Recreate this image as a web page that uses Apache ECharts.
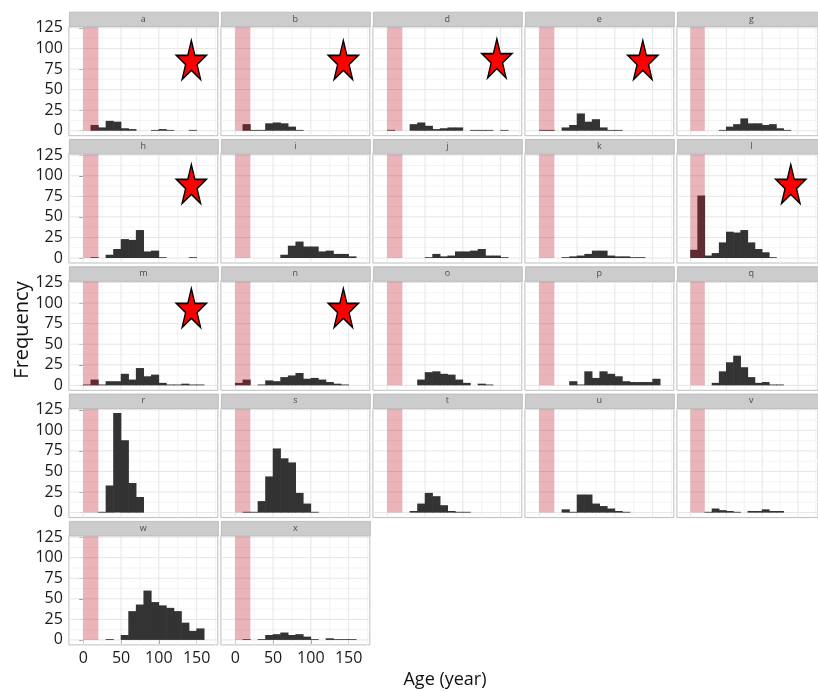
<!DOCTYPE html>
<html>
<head>
<meta charset="utf-8">
<script src="https://cdn.jsdelivr.net/npm/echarts@6/dist/echarts.min.js"></script>
<style>
html,body{margin:0;padding:0;background:#fff;}
#chart{width:818px;height:692px;}
</style>
</head>
<body>
<div id="chart"></div>
<script>
// ---- data ----
const panels = ['a','b','d','e','g','h','i','j','k','l','m','n','o','p','q','r','s','t','u','v','w','x'];
const binStarts = [0,10,20,30,40,50,60,70,80,90,100,110,120,130,140,150];
const binWidth = 10;
const counts = {
  a: [0,7,4,12,11,3,2,0,0,1,2,1,0,0,1,0],
  b: [0,8,1,1,9,10,9,5,1,0,0,0,0,0,0,0],
  d: [1,0,0,8,10,6,2,3,4,4,0,1,1,1,0,1],
  e: [1,1,0,4,7,21,11,14,4,1,1,0,0,0,0,0],
  g: [0,0,0,0,1,5,8,15,9,9,7,8,3,1,0,0],
  h: [0,1,0,4,11,23,22,34,8,9,1,0,0,0,1,0],
  i: [0,0,0,0,0,0,4,15,20,14,14,8,9,5,5,2],
  j: [0,0,0,0,0,1,5,2,3,8,8,9,11,3,3,1],
  k: [0,0,0,1,2,3,5,9,9,3,2,2,1,1,0,0],
  l: [10,76,3,6,19,32,31,34,19,11,7,1,0,0,0,0],
  m: [1,7,1,5,5,14,7,21,11,13,3,1,1,2,1,1],
  n: [3,7,0,1,6,5,10,12,15,8,9,7,4,2,1,0],
  o: [0,0,0,0,7,16,17,14,13,7,3,0,2,1,0,0],
  p: [0,0,0,0,5,1,17,9,17,14,11,5,4,4,4,8],
  q: [0,0,0,3,17,28,36,22,10,3,4,1,1,0,0,0],
  r: [0,0,1,33,121,88,36,19,0,0,0,0,0,0,0,0],
  s: [0,1,1,14,44,78,66,61,24,11,1,0,0,0,0,0],
  t: [0,0,0,2,11,24,20,9,2,1,1,0,0,0,0,0],
  u: [0,0,0,4,1,22,22,11,8,5,2,1,0,0,0,0],
  v: [0,0,1,5,3,2,1,0,2,2,4,2,2,0,0,0],
  w: [0,0,0,1,0,6,35,43,60,46,42,39,35,21,11,14],
  x: [0,1,0,1,6,7,9,6,7,4,1,0,2,1,1,1]
};
const bandRange = [0, 20];
const starPanels = ['a','b','d','e','h','l','m','n'];
const starX = [143,143,145,137,143,140,143,143];
const starY = [86,86,88,86,90,90,94,94];
const xTicks = [0,50,100,150];
const xMinor = [25,75,125,175];
const yTicks = [0,25,50,75,100,125];
const yMinor = [12.5,37.5,62.5,87.5,112.5];
const xLimits = [-19, 178];
const xLabel = 'Age (year)';
const yLabel = 'Frequency';

// ---- layout ----
const nCol = 5;
const colLeft0 = 68.9, colStep = 152, panelW = 148.9;
const rowTop0 = 11.7, rowStep = 127.3, stripH = 14.5, plotH = 109.5;
const FONT = '"Open Sans", "Liberation Sans", sans-serif';

let maxCount = 0;
panels.forEach(p => counts[p].forEach(c => { if (c > maxCount) maxCount = c; }));
const yMin = -0.05 * maxCount, yMax = 1.05 * maxCount;

const grids = [], xAxes = [], yAxes = [], series = [], graphics = [];
const nRows = Math.ceil(panels.length / nCol);
const lastRowStart = (nRows - 1) * nCol;

const starPath = 'path://M50,0 L61.2,34.5 L97.6,34.5 L68.2,55.9 L79.4,90.5 L50,69.1 L20.6,90.5 L31.8,55.9 L2.4,34.5 L38.8,34.5 Z';

panels.forEach((p, i) => {
  const col = i % nCol, row = Math.floor(i / nCol);
  const left = colLeft0 + col * colStep;
  const stripTop = rowTop0 + row * rowStep;
  const top = stripTop + stripH;
  grids.push({left: left, top: top, width: panelW, height: plotH, show: true,
    borderColor: '#bdbdbd', borderWidth: 1, backgroundColor: '#ffffff'});
  const isBottom = i >= lastRowStart;
  const isLeft = col === 0;
  xAxes.push({type: 'value', gridIndex: i, min: xLimits[0], max: xLimits[1],
    axisLine: {show: false}, splitLine: {show: false},
    axisTick: {show: isBottom, customValues: xTicks, length: 4, lineStyle: {color: '#7f7f7f'}},
    axisLabel: {show: isBottom, customValues: xTicks, fontSize: 16, color: '#1a1a1a', margin: 6, fontFamily: FONT}
  });
  yAxes.push({type: 'value', gridIndex: i, min: yMin, max: yMax,
    axisLine: {show: false}, splitLine: {show: false},
    axisTick: {show: isLeft, customValues: yTicks, length: 4, lineStyle: {color: '#7f7f7f'}},
    axisLabel: {show: isLeft, customValues: yTicks, fontSize: 16, color: '#1a1a1a', margin: 6, fontFamily: FONT}
  });
  // grid lines
  const gl = [];
  xMinor.forEach(v => gl.push([0, v, 0]));
  yMinor.forEach(v => gl.push([1, v, 0]));
  xTicks.forEach(v => gl.push([0, v, 1]));
  yTicks.forEach(v => gl.push([1, v, 1]));
  series.push({type: 'custom', xAxisIndex: i, yAxisIndex: i, z: 1, silent: true, clip: true,
    data: gl,
    renderItem: function (params, api) {
      const kind = api.value(0), v = api.value(1), major = api.value(2);
      let a, b;
      if (kind === 0) { a = api.coord([v, yMin]); b = api.coord([v, yMax]); }
      else { a = api.coord([xLimits[0], v]); b = api.coord([xLimits[1], v]); }
      return {type: 'line', shape: {x1: a[0], y1: a[1], x2: b[0], y2: b[1]},
        style: {stroke: major ? '#e6e6e6' : '#f4f4f4', lineWidth: 1}};
    }
  });
  // histogram bars
  const bars = [];
  counts[p].forEach((c, k) => { if (c > 0) bars.push([binStarts[k], c]); });
  series.push({type: 'custom', xAxisIndex: i, yAxisIndex: i, z: 2, silent: true,
    data: bars,
    renderItem: function (params, api) {
      const x0 = api.value(0), c = api.value(1);
      const p1 = api.coord([x0, c]);
      const p0 = api.coord([x0 + binWidth, 0]);
      return {type: 'rect', shape: {x: p1[0] - 0.3, y: p1[1], width: p0[0] - p1[0] + 0.6, height: Math.max(p0[1] - p1[1], 0.8)},
        style: {fill: '#333333'}};
    }
  });
  // pink band
  series.push({type: 'custom', xAxisIndex: i, yAxisIndex: i, z: 3, silent: true,
    data: [bandRange],
    renderItem: function (params, api) {
      const a = api.coord([api.value(0), yMax]);
      const b = api.coord([api.value(1), 0]);
      return {type: 'rect', shape: {x: a[0], y: a[1], width: b[0] - a[0], height: b[1] - a[1]},
        style: {fill: 'rgba(190,30,45,0.33)'}};
    }
  });
  // star
  const si = starPanels.indexOf(p);
  if (si >= 0) {
    series.push({type: 'scatter', xAxisIndex: i, yAxisIndex: i, z: 4, silent: true,
      data: [[starX[si], starY[si]]], symbol: starPath, symbolSize: [30, 39],
      itemStyle: {color: '#ff0000', borderColor: '#000000', borderWidth: 1.5, opacity: 1}
    });
  }
  // strip
  graphics.push({type: 'rect', left: left, top: stripTop, z: 10,
    shape: {x: 0, y: 0, width: panelW, height: stripH},
    style: {fill: '#cccccc', stroke: '#bdbdbd', lineWidth: 1}});
  graphics.push({type: 'text', x: left + panelW / 2, y: stripTop + stripH / 2, z: 11,
    style: {text: p, fill: '#4d4d4d', font: '9px ' + FONT, textAlign: 'center', textVerticalAlign: 'middle'}});
});

graphics.push({type: 'text', x: 22, y: 330, rotation: Math.PI / 2, z: 11,
  style: {text: yLabel, fill: '#111', font: '20px ' + FONT, textAlign: 'center', textVerticalAlign: 'middle'}});
graphics.push({type: 'text', x: 445, y: 680, z: 11,
  style: {text: xLabel, fill: '#111', font: '18px ' + FONT, textAlign: 'center', textVerticalAlign: 'middle'}});

const chart = echarts.init(document.getElementById('chart'), null, {renderer: 'canvas'});
chart.setOption({
  animation: false,
  backgroundColor: '#ffffff',
  grid: grids, xAxis: xAxes, yAxis: yAxes, series: series, graphic: graphics
});
</script>
</body>
</html>
